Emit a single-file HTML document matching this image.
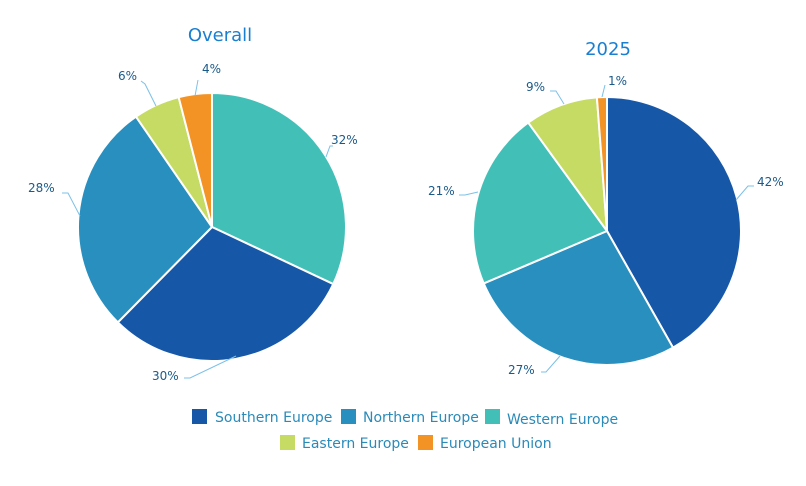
<!DOCTYPE html>
<html><head><meta charset="utf-8"><style>
body{margin:0;background:#fff;}
svg{display:block;font-family:"DejaVu Sans","Liberation Sans",sans-serif;}
</style></head><body>
<svg id="s" width="806" height="486" xmlns="http://www.w3.org/2000/svg">
<text x="220" y="41" font-size="18" fill="#1a7fd0" text-anchor="middle">Overall</text>
<text x="608" y="55" font-size="18" fill="#1a7fd0" text-anchor="middle">2025</text>
<g id="p"></g>
<g font-size="12" fill="#1a5a8a">
<polyline points="326,157 330,146 333,146" fill="none" stroke="#7cc0e8"/>
<text x="331" y="144">32%</text>
<polyline points="236,356 190,378 184,378" fill="none" stroke="#7cc0e8"/>
<text x="152" y="380">30%</text>
<polyline points="80,216 68,193 62,193" fill="none" stroke="#7cc0e8"/>
<text x="28" y="192">28%</text>
<polyline points="156,106 145,84 141,81" fill="none" stroke="#7cc0e8"/>
<text x="118" y="80">6%</text>
<polyline points="195,96 198,80" fill="none" stroke="#7cc0e8"/>
<text x="202" y="73">4%</text>
<polyline points="736,200 748,186 754,186" fill="none" stroke="#7cc0e8"/>
<text x="757" y="186">42%</text>
<polyline points="560,356 546,372 541,372" fill="none" stroke="#7cc0e8"/>
<text x="508" y="374">27%</text>
<polyline points="478,192 465,195 459,195" fill="none" stroke="#7cc0e8"/>
<text x="428" y="195">21%</text>
<polyline points="564,104 556,91 550,91" fill="none" stroke="#7cc0e8"/>
<text x="526" y="91">9%</text>
<polyline points="602,97 605,85" fill="none" stroke="#7cc0e8"/>
<text x="608" y="85">1%</text>
</g>
<g font-size="14" fill="#2a8ab8">
<rect x="192" y="409" width="15" height="15" fill="#1757a8"/><text x="215" y="422">Southern Europe</text>
<rect x="341" y="409" width="15" height="15" fill="#288fbf"/><text x="363" y="422">Northern Europe</text>
<rect x="485" y="409" width="15" height="15" fill="#42c0b8"/><text x="507" y="424">Western Europe</text>
<rect x="280" y="435" width="15" height="15" fill="#c5db63"/><text x="302" y="448">Eastern Europe</text>
<rect x="418" y="435" width="15" height="15" fill="#f39325"/><text x="440" y="448">European Union</text>
</g>
</svg>
<script>
var C={S:"#1757a8",N:"#288fbf",W:"#42c0b8",E:"#c5db63",U:"#f39325"};
function pie(cx,cy,r,d){var g=document.getElementById('p'),a=0,h='';
d.forEach(function(s){var b=a+s[1]/100*2*Math.PI;
var x1=cx+r*Math.sin(a),y1=cy-r*Math.cos(a),x2=cx+r*Math.sin(b),y2=cy-r*Math.cos(b);
h+='<path d="M'+cx+','+cy+' L'+x1+','+y1+' A'+r+','+r+' 0 '+((b-a)>Math.PI?1:0)+' 1 '+x2+','+y2+' Z" fill="'+C[s[0]]+'" stroke="#fff" stroke-width="2"/>';a=b;});
g.innerHTML+=h;}
pie(212,227,134,[["W",32],["S",30.4],["N",28],["E",5.6],["U",4]]);
pie(607,231,134,[["S",41.8],["N",26.8],["W",21.4],["E",8.8],["U",1.2]]);
</script>
</body></html>
